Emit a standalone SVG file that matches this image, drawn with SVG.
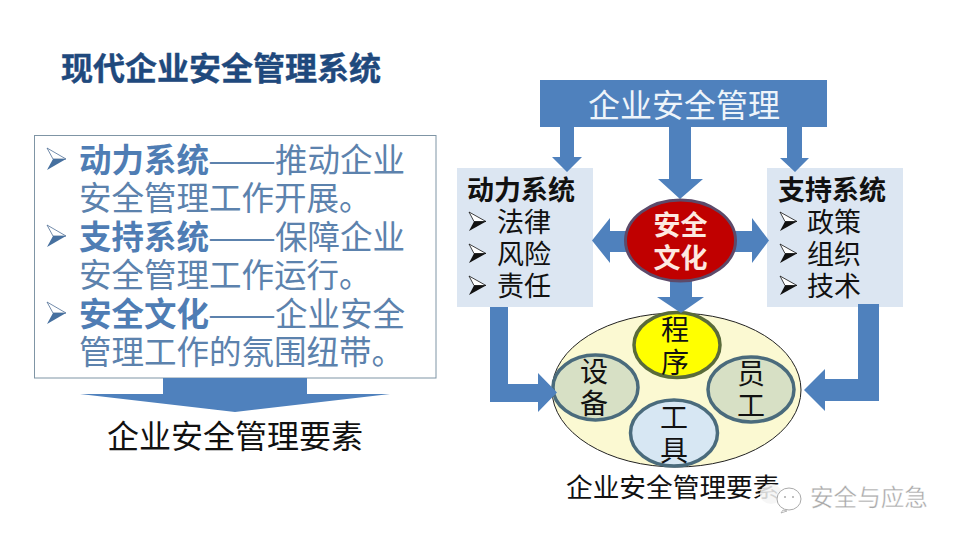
<svg xmlns="http://www.w3.org/2000/svg" width="960" height="540" viewBox="0 0 960 540">
<style>
text{font-family:"Noto Sans CJK SC","Noto Sans",sans-serif}
.bl{fill:#4f81bd}
.lt{font-size:32.5px;fill:#5c82ad}
.lt .b{font-weight:700;fill:#4f7db4}
.pt{font-size:27px;font-weight:700;fill:#111}
.pi{font-size:27px;fill:#111}
.panel{fill:#dce6f2}
.in{font-size:28px;fill:#111;text-anchor:middle}
.sm{stroke-width:3.5px}
</style>
<defs>
<g id="bul"><polygon points="0,0 19,11 6,11" fill="#fff" stroke="#4f6f96" stroke-width=".8"/><polygon points="6,11 19,11 0,22" fill="#46709f"/></g>
<g id="bup"><polygon points="0,0 17,9.500 5,9.500" fill="#fff" stroke="#111" stroke-width=".8"/><polygon points="5,9.500 17,9.500 0,19" fill="#111"/></g>
</defs>
<rect width="960" height="540" fill="#fff"/>
<text x="61" y="80" font-size="32" font-weight="700" fill="#1f497d" stroke="#1f497d" stroke-width=".4">现代企业安全管理系统</text>

<g id="left-box">
<rect x="34.500" y="135.500" width="401.500" height="242.500" fill="#fff" stroke="#7f95a5" stroke-width="1"/>
<use href="#bul" x="47" y="148"/>
<text class="lt" x="79" y="172"><tspan class="b">动力系统</tspan><tspan x="208" textLength="68" lengthAdjust="spacingAndGlyphs">——</tspan><tspan x="275">推动企业</tspan></text>
<text class="lt" x="79" y="210">安全管理工作开展。</text>
<use href="#bul" x="47" y="225"/>
<text class="lt" x="79" y="249"><tspan class="b">支持系统</tspan><tspan x="208" textLength="68" lengthAdjust="spacingAndGlyphs">——</tspan><tspan x="275">保障企业</tspan></text>
<text class="lt" x="79" y="287">安全管理工作运行。</text>
<use href="#bul" x="47" y="302"/>
<text class="lt" x="79" y="326"><tspan class="b">安全文化</tspan><tspan x="208" textLength="68" lengthAdjust="spacingAndGlyphs">——</tspan><tspan x="275">企业安全</tspan></text>
<text class="lt" x="79" y="364">管理工作的氛围纽带。</text>
</g>

<g id="left-output">
<text x="107" y="448" font-size="32" fill="#111">企业安全管理要素</text>
</g>

<g id="elements">
<ellipse cx="676.500" cy="390" rx="124.500" ry="77" fill="#fbf9d2" stroke="#222" stroke-width="1"/>
<g id="node-chengxu"><ellipse class="sm" cx="677" cy="345" rx="43" ry="32.500" fill="#ffff00" stroke="#5a6b3a"/>
<text class="in" x="675" y="340">程</text><text class="in" x="675" y="373">序</text></g>
<g id="node-shebei"><ellipse class="sm" cx="595.500" cy="387.500" rx="42.500" ry="32.500" fill="#d7e0c5" stroke="#4a6b7c"/>
<text class="in" x="594" y="382">设</text><text class="in" x="594" y="414">备</text></g>
<g id="node-yuangong"><ellipse class="sm" cx="751" cy="389.500" rx="43" ry="32.500" fill="#d7e0c5" stroke="#4a6b7c"/>
<text class="in" x="751" y="384">员</text><text class="in" x="751" y="416">工</text></g>
<g id="node-gongju"><ellipse class="sm" cx="674" cy="433" rx="43.500" ry="33" fill="#d7e7f3" stroke="#4a6b7c"/>
<text class="in" x="674" y="428">工</text><text class="in" x="674" y="461">具</text></g>
</g>

<g id="node-dongli">
<rect class="panel" x="457" y="168" width="136" height="139"/>
<text class="pt" x="467" y="200">动力系统</text>
<use href="#bup" x="469" y="212"/><text class="pi" x="497" y="232">法律</text>
<use href="#bup" x="469" y="244"/><text class="pi" x="497" y="264">风险</text>
<use href="#bup" x="469" y="276"/><text class="pi" x="497" y="296">责任</text>
</g>
<g id="node-zhichi">
<rect class="panel" x="767" y="168" width="136" height="139"/>
<text class="pt" x="778" y="200">支持系统</text>
<use href="#bup" x="780" y="212"/><text class="pi" x="807" y="232">政策</text>
<use href="#bup" x="780" y="244"/><text class="pi" x="807" y="264">组织</text>
<use href="#bup" x="780" y="276"/><text class="pi" x="807" y="296">技术</text>
</g>

<g id="connectors">
<polygon class="bl" points="163,378 307,378 307,394 390,394 235,412 80,394 163,394"/>
<polygon class="bl" points="560,127 574,127 574,157 582,157 567,172 552,157 560,157"/>
<polygon class="bl" points="669,127 691,127 691,179 703,179 680,199 658,179 669,179"/>
<polygon class="bl" points="787,127 802,127 802,158 809,158 795,172 780,158 787,158"/>
<polygon class="bl" points="626,231 610,231 610,218 592,240.500 610,263 610,252 626,252"/>
<polygon class="bl" points="735,231 752,231 752,218 769,240.500 752,263 752,252 735,252"/>
<polygon class="bl" points="670,281 692,281 692,297 704,297 681,313 657,297 670,297"/>
<polygon class="bl" points="490,307 508,307 508,384 538,384 538,373 557,392.500 538,412 538,402 490,402"/>
<polygon class="bl" points="858,304 879,304 879,401 825,401 825,411 804,390 825,369 825,379 858,379"/>
</g>

<g id="node-top">
<rect class="bl" x="540" y="80" width="287" height="47"/>
<text x="588" y="117" font-size="32" fill="#eef4fa">企业安全管理</text>
</g>
<g id="node-culture">
<ellipse cx="680.500" cy="240.500" rx="55" ry="40.500" fill="#c00000" stroke="#5c4a6a" stroke-width="3"/>
<text x="680.500" y="235" font-size="27" font-weight="700" fill="#fde8e0" text-anchor="middle">安全</text>
<text x="680.500" y="268" font-size="27" font-weight="700" fill="#fde8e0" text-anchor="middle">文化</text>
</g>

<g id="caption">
<text x="566" y="497" font-size="26.700" fill="#111">企业安全管理要素</text>
</g>
<g id="watermark">
<ellipse cx="771" cy="494" rx="11" ry="10" fill="#f4f4f4" fill-opacity=".85"/>
<path d="M783 510 L781 513 L787 511 Z" fill="#fff" stroke="#aaa" stroke-width=".8"/>
<ellipse cx="789" cy="499" rx="12" ry="11" fill="#fff" stroke="#aaa" stroke-width="1"/>
<circle cx="785" cy="497" r="1" fill="#aaa"/><circle cx="793" cy="497" r="1" fill="#aaa"/>
<text x="810" y="506" font-size="23.600" fill="#a8a8a8" stroke="#fff" stroke-width="0.400">安全与应急</text>
</g>
</svg>
